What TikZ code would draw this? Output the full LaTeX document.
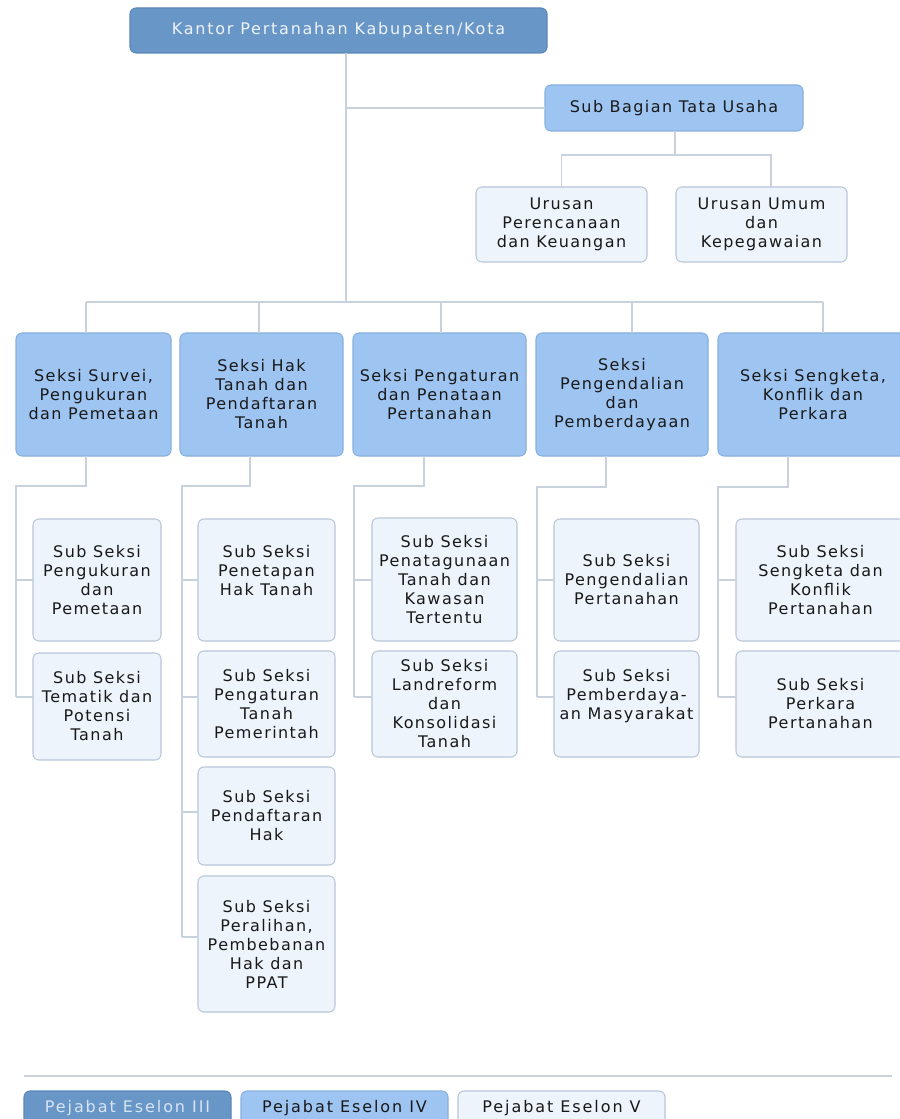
\documentclass[tikz,border=0pt]{standalone}
\usepackage{fontspec}
\setmainfont{DejaVu Sans}[LetterSpace=9]
\newfontfamily\topfont{DejaVu Sans}[LetterSpace=11]
\newfontfamily\legfont{DejaVu Sans}[LetterSpace=12]
\definecolor{eIIIfill}{RGB}{104,150,199}
\definecolor{eIIIdraw}{RGB}{92,135,183}
\definecolor{eIVfill}{RGB}{158,197,242}
\definecolor{eIVdraw}{RGB}{136,176,222}
\definecolor{eVfill}{RGB}{238,244,252}
\definecolor{eVdraw}{RGB}{184,198,216}
\definecolor{linec}{RGB}{200,210,222}
\definecolor{sepc}{RGB}{205,210,216}
\definecolor{textc}{RGB}{25,25,25}
\definecolor{lighttext}{RGB}{238,243,250}
\definecolor{legIIItext}{RGB}{215,228,243}
\begin{document}
\begin{tikzpicture}[x=0.75pt,y=-0.75pt,
  place/.style n args={4}{at={({(#1+#3)/2},{(#2+#4)/2})},
     minimum width={(#3-#1)*0.75pt}, minimum height={(#4-#2)*0.75pt}},
  base/.style={rectangle, rounded corners=4.5pt, inner sep=0pt, outer sep=0pt,
     align=center, font=\fontsize{12}{14.25}\selectfont, line width=0.8pt},
  eIII/.style={base, fill=eIIIfill, draw=eIIIdraw, text=lighttext},
  eIV/.style={base, fill=eIVfill, draw=eIVdraw, text=textc},
  eV/.style={base, fill=eVfill, draw=eVdraw, text=textc},
  legend/.style={font=\legfont\fontsize{12}{14.25}\selectfont},
  conn/.style={draw=linec, line width=1pt},
  sep/.style={draw=sepc, line width=1pt}]
\useasboundingbox (0,0) rectangle (899,1119);
\fill[white] (0,0) rectangle (899,1119);

% ---------- nodes ----------
\node[eIII, place={130}{8}{547}{53}, font=\topfont\fontsize{12}{14.25}\selectfont] (top) {Kantor Pertanahan Kabupaten/Kota};
\node[eIV, place={545}{85}{803}{131}] (sbt) {Sub Bagian Tata Usaha};
\node[eV, place={476}{187}{647}{262}] (ur1) {Urusan\\Perencanaan\\dan Keuangan};
\node[eV, place={676}{187}{847}{262}] (ur2) {Urusan Umum\\dan\\Kepegawaian};

\node[eIV, place={16}{333}{171}{456}] (s1) {Seksi Survei,\\Pengukuran\\dan Pemetaan};
\node[eIV, place={180}{333}{343}{456}] (s2) {Seksi Hak\\Tanah dan\\Pendaftaran\\Tanah};
\node[eIV, place={353}{333}{526}{456}] (s3) {Seksi Pengaturan\\dan Penataan\\Pertanahan};
\node[eIV, place={536}{333}{708}{456}] (s4) {Seksi\\Pengendalian\\dan\\Pemberdayaan};
\node[eIV, place={718}{333}{908}{456}] (s5) {Seksi Sengketa,\\Konflik dan\\Perkara};

\node[eV, place={33}{519}{161}{641}] (c1a) {Sub Seksi\\Pengukuran\\dan\\Pemetaan};
\node[eV, place={33}{653}{161}{760}] (c1b) {Sub Seksi\\Tematik dan\\Potensi\\Tanah};

\node[eV, place={198}{519}{335}{641}] (c2a) {Sub Seksi\\Penetapan\\Hak Tanah\\\mbox{}};
\node[eV, place={198}{651}{335}{757}] (c2b) {Sub Seksi\\Pengaturan\\Tanah\\Pemerintah};
\node[eV, place={198}{767}{335}{865}] (c2c) {Sub Seksi\\Pendaftaran\\Hak};
\node[eV, place={198}{876}{335}{1012}] (c2d) {Sub Seksi\\Peralihan,\\Pembebanan\\Hak dan\\PPAT};

\node[eV, place={372}{518}{517}{641}] (c3a) {Sub Seksi\\Penatagunaan\\Tanah dan\\Kawasan\\Tertentu};
\node[eV, place={372}{651}{517}{757}] (c3b) {Sub Seksi\\Landreform\\dan\\Konsolidasi\\Tanah};

\node[eV, place={554}{519}{699}{641}] (c4a) {Sub Seksi\\Pengendalian\\Pertanahan};
\node[eV, place={554}{651}{699}{757}] (c4b) {Sub Seksi\\Pemberdaya-\\an Masyarakat\\\mbox{}};

\node[eV, place={736}{519}{905}{641}] (c5a) {Sub Seksi\\Sengketa dan\\Konflik\\Pertanahan};
\node[eV, place={736}{651}{905}{757}] (c5b) {Sub Seksi\\Perkara\\Pertanahan};

% legend
\node[eIII, legend, text=legIIItext, place={24}{1091}{231}{1125}] (leg3) {Pejabat Eselon III};
\node[eIV, legend, place={241}{1091}{448}{1125}] (leg4) {Pejabat Eselon IV};
\node[eV, legend, place={458}{1091}{665}{1125}] (leg5) {Pejabat Eselon V};

% ---------- connectors ----------
\coordinate (trunk) at (346,302);
\draw[conn] (top.south -| trunk) -- (trunk);
\draw[conn] (sbt.west) -- (sbt.west -| trunk);

\coordinate (ubus) at (675,155);
\coordinate (u2in) at (771,187);
\draw[conn] (sbt.south -| ubus) -- (ubus);
\draw[conn] (ur1.north) |- (ubus) -| (u2in);

\coordinate (d1) at (86,302);
\coordinate (d2) at (259,302);
\coordinate (d3) at (441,302);
\coordinate (d4) at (632,302);
\coordinate (d5) at (823,302);
\draw[conn] (d1) -- (d5);
\foreach \i in {1,...,5}{\draw[conn] (d\i) -- (s\i.north -| d\i);}

% rows of the branches
\coordinate (rA) at (0,580);
\coordinate (rB) at (0,697);
\coordinate (rC) at (0,812);
\coordinate (rD) at (0,937);

% column 1
\coordinate (k1) at (86,486);  \coordinate (q1) at (16,486);
\draw[conn] (s1.south -| k1) -- (k1) -- (q1) -- (q1 |- rB);
\draw[conn] (q1 |- rA) -- (c1a.west |- rA);
\draw[conn] (q1 |- rB) -- (c1b.west |- rB);

% column 2
\coordinate (k2) at (250,486); \coordinate (q2) at (182,486);
\draw[conn] (s2.south -| k2) -- (k2) -- (q2) -- (q2 |- rD);
\draw[conn] (q2 |- rA) -- (c2a.west |- rA);
\draw[conn] (q2 |- rB) -- (c2b.west |- rB);
\draw[conn] (q2 |- rC) -- (c2c.west |- rC);
\draw[conn] (q2 |- rD) -- (c2d.west |- rD);

% column 3
\coordinate (k3) at (424,486); \coordinate (q3) at (354,486);
\draw[conn] (s3.south -| k3) -- (k3) -- (q3) -- (q3 |- rB);
\draw[conn] (q3 |- rA) -- (c3a.west |- rA);
\draw[conn] (q3 |- rB) -- (c3b.west |- rB);

% column 4
\coordinate (k4) at (606,487); \coordinate (q4) at (537,487);
\draw[conn] (s4.south -| k4) -- (k4) -- (q4) -- (q4 |- rB);
\draw[conn] (q4 |- rA) -- (c4a.west |- rA);
\draw[conn] (q4 |- rB) -- (c4b.west |- rB);

% column 5
\coordinate (k5) at (788,487); \coordinate (q5) at (718,487);
\draw[conn] (s5.south -| k5) -- (k5) -- (q5) -- (q5 |- rB);
\draw[conn] (q5 |- rA) -- (c5a.west |- rA);
\draw[conn] (q5 |- rB) -- (c5b.west |- rB);

% separator above the legend
\coordinate (sepL) at (24,1076);
\coordinate (sepR) at (892,1076);
\draw[sep] (sepL) -- (sepR);
\end{tikzpicture}
\end{document}
